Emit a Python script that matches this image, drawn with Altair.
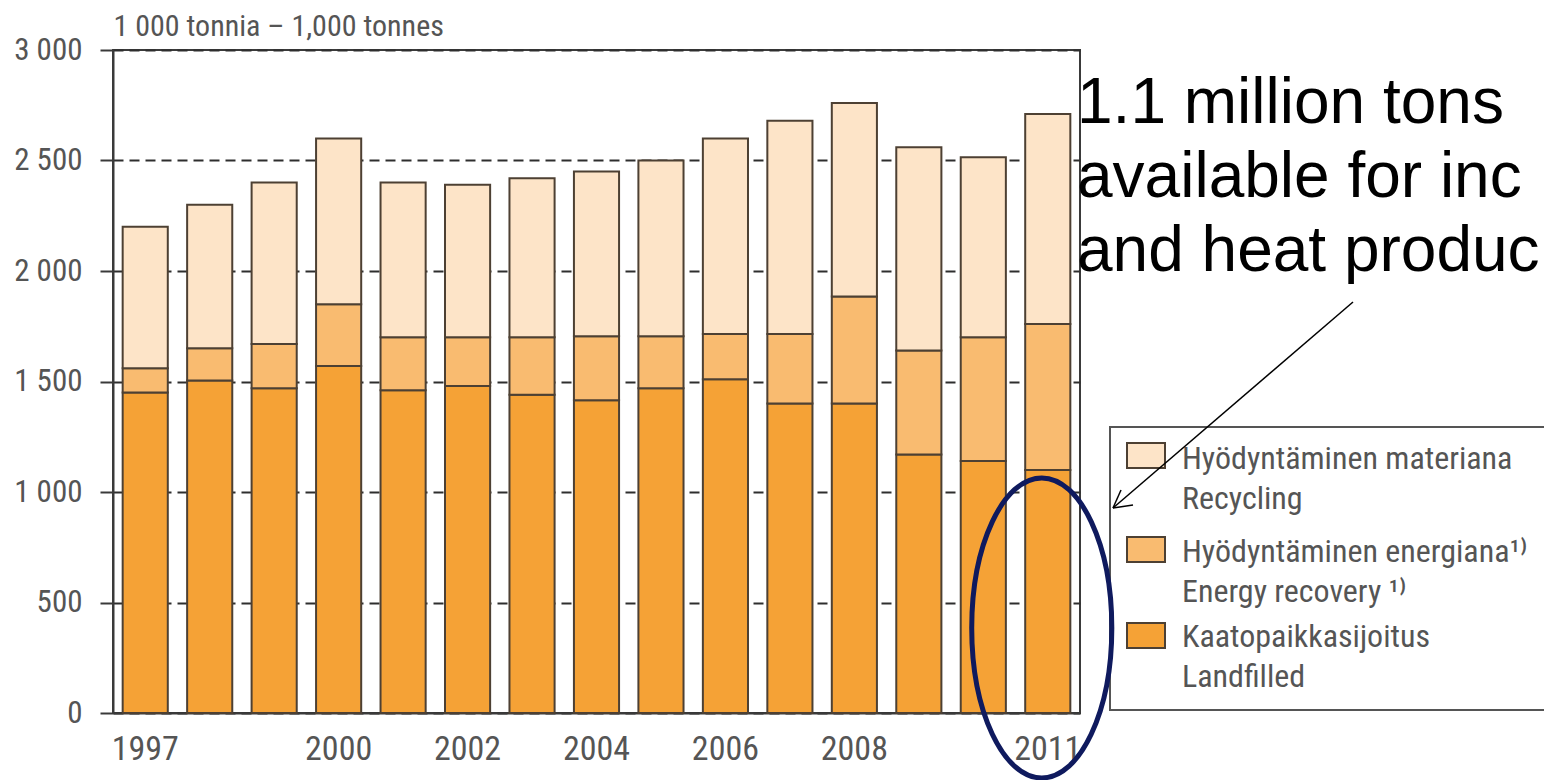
import altair as alt
import pandas as pd

years = [str(y) for y in range(1997, 2012)]
landfilled = [1450, 1505, 1470, 1570, 1460, 1480, 1440, 1415, 1470, 1510, 1400, 1400, 1170, 1140, 1100]
energy = [110, 145, 200, 280, 240, 220, 260, 290, 235, 205, 315, 485, 470, 560, 660]
recycling = [640, 650, 730, 750, 700, 690, 720, 745, 795, 885, 965, 875, 920, 815, 950]

series = [
    "Hyödyntäminen materiana\nRecycling",
    "Hyödyntäminen energiana¹⁾\nEnergy recovery ¹⁾",
    "Kaatopaikkasijoitus\nLandfilled",
]
colors = ["#FDE4C8", "#F9BB70", "#F5A236"]
shown_years = ["1997", "2000", "2002", "2004", "2006", "2008", "2011"]
y_ticks = [0, 500, 1000, 1500, 2000, 2500, 3000]

# annotation text as it is visible in the picture (cut at the right edge)
annotation_lines = "1.1 million tons\navailable for inc\nand heat produc"
highlight = pd.DataFrame({"year": ["2011"], "v": [385]})

rows = []
for i, yr in enumerate(years):
    rows.append({"year": yr, "series": series[2], "value": landfilled[i], "ord": 0})
    rows.append({"year": yr, "series": series[1], "value": energy[i], "ord": 1})
    rows.append({"year": yr, "series": series[0], "value": recycling[i], "ord": 2})
df = pd.DataFrame(rows)

GRAY = "#555555"
DARK = "#3a3a3a"
OUTLINE = "#4d4033"
NARROW = "Liberation Sans Narrow, Roboto Condensed, DejaVu Sans Condensed, Roboto, sans-serif"

xenc = alt.X(
    "year:N",
    sort=years,
    scale=alt.Scale(paddingInner=0.3, paddingOuter=0.15),
    axis=alt.Axis(
        values=shown_years, labelAngle=0, ticks=False, labelPadding=19,
        labelFontSize=34, labelColor=GRAY, labelFont=NARROW,
        domainColor=DARK, domainWidth=2, title=None,
    ),
)

bars = alt.Chart(df).mark_bar(stroke=OUTLINE, strokeWidth=2).encode(
    x=xenc,
    y=alt.Y(
        "value:Q",
        stack="zero",
        scale=alt.Scale(domain=[0, 3000], nice=False),
        axis=alt.Axis(
            values=y_ticks,
            labelExpr="replace(format(datum.value, ','), ',', ' ')",
            title="1 000 tonnia – 1,000 tonnes",
            titleAngle=0, titleX=0, titleY=-15, titleAlign="left",
            titleBaseline="alphabetic", titleFont=NARROW, titleFontSize=30,
            titleFontWeight="normal", titleColor=GRAY,
            labelFont=NARROW, labelFontSize=31, labelColor=GRAY, labelPadding=18,
            tickSize=13, tickColor=DARK, tickWidth=2,
            domainColor=DARK, domainWidth=2,
            grid=True, gridColor="#2e2e2e", gridDash=[10, 6], gridWidth=2,
        ),
    ),
    color=alt.Color("series:N", scale=alt.Scale(domain=series, range=colors), legend=None),
    order=alt.Order("ord:Q", sort="ascending"),
)

# legend drawn by hand: box, swatches and two-line labels
legend_layers = [
    alt.Chart(highlight).mark_rect(fill="white", stroke=GRAY, strokeWidth=2).encode(
        x=alt.value(997), x2=alt.value(1460), y=alt.value(377), y2=alt.value(660))
]
swatch_tops = [393, 487, 573]
label_baselines = [419, 512, 597]
for i in range(3):
    legend_layers.append(
        alt.Chart(highlight).mark_rect(fill=colors[i], stroke=OUTLINE, strokeWidth=2).encode(
            x=alt.value(1014), x2=alt.value(1052),
            y=alt.value(swatch_tops[i]), y2=alt.value(swatch_tops[i] + 25))
    )
    legend_layers.append(
        alt.Chart(highlight).mark_text(
            text=series[i], lineBreak="\n", lineHeight=40, align="left",
            baseline="alphabetic", font=NARROW, fontSize=32, color=GRAY,
        ).encode(x=alt.value(1069), y=alt.value(label_baselines[i]))
    )

ellipse = alt.Chart(highlight).mark_point(
    shape="M-0.467,0A0.467,1,0,1,0,0.467,0A0.467,1,0,1,0,-0.467,0Z",
    size=90000, filled=False, stroke="#0f1a5e", strokeWidth=5, opacity=1, xOffset=-6,
).encode(x=alt.X("year:N", sort=years), y="v:Q")

arrow_line = alt.Chart(highlight).mark_rule(color="black", strokeWidth=1.5).encode(
    x=alt.value(1240), y=alt.value(252), x2=alt.value(1000), y2=alt.value(458))
arrow_w1 = alt.Chart(highlight).mark_rule(color="black", strokeWidth=1.5).encode(
    x=alt.value(1000), y=alt.value(458), x2=alt.value(1020), y2=alt.value(455))
arrow_w2 = alt.Chart(highlight).mark_rule(color="black", strokeWidth=1.5).encode(
    x=alt.value(1000), y=alt.value(458), x2=alt.value(1008), y2=alt.value(440))

note = alt.Chart(highlight).mark_text(
    text=annotation_lines, lineBreak="\n", lineHeight=74, align="left",
    baseline="alphabetic", font="Liberation Sans, Arial, sans-serif", fontSize=64,
    color="black",
).encode(x=alt.value(964), y=alt.value(73))

chart = alt.layer(
    bars, *legend_layers, ellipse, arrow_line, arrow_w1, arrow_w2, note
).properties(
    width=967, height=663,
    autosize=alt.AutoSizeParams(type="none"),
    padding={"left": 113, "top": 50, "right": 464, "bottom": 67},
    background="white",
).configure_view(stroke=DARK, strokeWidth=2)

chart.save("out.html", embed_options={"renderer": "svg", "actions": False})
